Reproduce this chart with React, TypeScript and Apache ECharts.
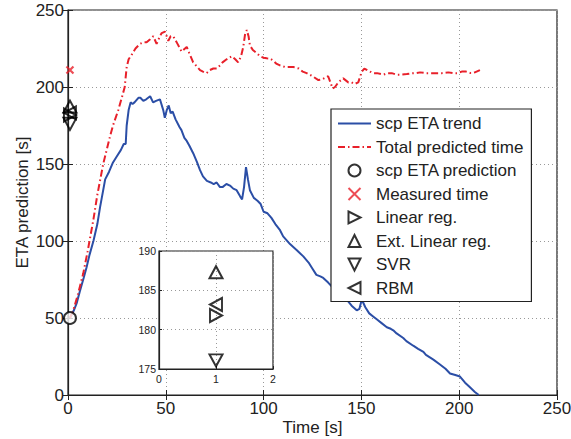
import React, { useEffect, useRef } from "react";
import * as echarts from "echarts";

// ---- data ----
const etaTrend: [number, number][] = [
  [1, 50], [3, 55], [4.4, 59.5], [6, 67], [8, 76], [9.5, 83], [11, 91], [13, 100], [15, 111],
  [16.4, 122], [18, 133], [19, 140], [21, 145], [23, 151], [25, 155], [27, 159], [28.5, 163],
  [29.5, 163], [30, 175], [31, 185], [32, 190], [33, 189], [34, 190], [36, 193], [37, 193],
  [38.5, 191], [40, 192], [42, 194], [43.5, 190], [45, 191], [47, 192], [48.7, 185], [49.5, 180],
  [50.5, 185], [51.5, 188], [52.5, 183], [53.5, 184], [55, 179], [57, 174], [58, 172], [59.5, 167],
  [60.7, 165], [62, 162], [64, 157], [66, 151], [67.5, 146], [69, 142], [71, 139], [73, 138],
  [74.5, 137], [76, 138], [77.7, 135], [79, 135], [81, 137], [82.8, 136], [84.5, 134], [86.2, 133],
  [88, 129], [89, 127], [90, 135], [91, 148], [92, 140], [93, 133], [95, 128], [97, 126],
  [98.5, 124], [100, 119], [102, 118], [104, 115], [106, 111], [108.4, 107], [110, 103],
  [113.5, 98], [117, 94], [120.3, 90], [123, 86], [125, 82], [127, 78], [129, 77], [130.5, 76],
  [133, 73], [136, 69], [139, 65], [142.5, 62], [145, 58], [147.6, 55], [149, 56], [150.2, 62],
  [152, 57], [154, 53], [156, 51], [158, 49], [160, 47], [163, 44], [165, 43], [166.3, 42],
  [168, 40], [171.4, 37], [173, 35], [176.5, 32], [179, 30], [181.7, 28], [183, 26], [186.8, 23],
  [190, 20], [193, 17], [195.3, 14], [198, 13], [200.4, 12], [203, 8], [205.5, 5], [208, 2], [210, 0],
];

const totalPredicted: [number, number][] = [
  [1, 50], [2.7, 55], [5, 65], [7.8, 79], [10, 93], [13, 114], [15, 130], [18, 150], [21.5, 168],
  [23, 175], [25.7, 185], [27.5, 193], [29, 200], [30, 213], [31, 218], [32.6, 221], [34.5, 225],
  [36.8, 228], [38.5, 229], [40.2, 229], [42, 231], [43.6, 233], [45.3, 228], [47, 233],
  [47.9, 235], [49.6, 236], [51.3, 230], [52.5, 233], [53.8, 233], [56, 228], [58.1, 223],
  [60.7, 226], [62, 222], [64, 216], [67.5, 211], [69, 210], [70.9, 209], [72.5, 211], [74.3, 212],
  [76, 212], [77.7, 214], [79, 216], [81.1, 218], [83.7, 220], [85.5, 218], [87, 216], [88.5, 220],
  [89.6, 226], [90.5, 234], [91.4, 237], [92.3, 233], [93, 227], [94.5, 224], [96.5, 222],
  [98.2, 220], [100, 219], [101.6, 218.6], [103.3, 218.5], [105, 217], [106.7, 215], [108.4, 214],
  [111, 213], [113, 213], [115.2, 213], [118, 212], [120, 210], [122, 209], [125, 207],
  [128, 204.5], [130, 205], [133, 207], [135.3, 199], [136.5, 200], [138.2, 203], [140.7, 205.6],
  [143.3, 203], [145, 203], [146.5, 202], [148.4, 203], [150.2, 210], [151.5, 212], [153.5, 210.6],
  [156, 209], [158, 209], [161.2, 208], [163.5, 209], [165.5, 209], [168, 208], [170, 208],
  [173.2, 208.4], [176, 209], [178, 209], [180, 209.5], [183, 209], [186, 209], [188.5, 209],
  [191, 209], [194.4, 209.5], [197, 209], [199, 209], [201.3, 210], [203.5, 210], [206, 209],
  [208, 209.5], [210.6, 211],
];

const etaPrediction: [number, number][] = [[1, 50]];
const measuredTime: [number, number][] = [[1, 211]];
const linearReg: [number, number][] = [[1, 181.8]];
const extLinearReg: [number, number][] = [[1, 187.3]];
const svr: [number, number][] = [[1, 176.1]];
const rbm: [number, number][] = [[1, 183.2]];

const seriesNames = [
  "scp ETA trend",
  "Total predicted time",
  "scp ETA prediction",
  "Measured time",
  "Linear reg.",
  "Ext. Linear reg.",
  "SVR",
  "RBM",
];

const FONT = "'Liberation Sans', Arial, Helvetica, sans-serif";
const INK = "#222";
const BLUE = "#2b4ea6";
const RED = "#e8202a";

const TRI_RIGHT = "path://M0,0L10,5L0,10Z";
const TRI_UP = "path://M5,0L10,10L0,10Z";
const TRI_DOWN = "path://M0,0L10,0L5,10Z";
const TRI_LEFT = "path://M10,0L0,5L10,10Z";
const CROSS = "path://M0,0L10,10M10,0L0,10";

const hollow = { color: "rgba(0,0,0,0)", borderColor: "#000", borderWidth: 2 };

export default function App() {
  const ref = useRef<HTMLDivElement>(null);

  useEffect(() => {
    if (!ref.current) return;
    const chart = echarts.init(ref.current, undefined, { renderer: "svg" });

    const split = { show: true, lineStyle: { color: "#999", width: 1, type: [1, 3] as any } };
    const axisLine = { show: true, onZero: false, lineStyle: { color: INK, width: 1.2 } };
    const label = { color: INK, fontSize: 17, fontFamily: FONT };
    const smallLabel = { color: INK, fontSize: 10.5, fontFamily: FONT };

    const markerSeries = (
      name: string,
      data: [number, number][],
      symbol: string,
      size: number | number[],
      xi: number,
      yi: number,
      z: number,
      style: any = hollow
    ) => ({
      name,
      type: "scatter",
      xAxisIndex: xi,
      yAxisIndex: yi,
      data,
      symbol,
      symbolSize: size,
      itemStyle: style,
      z,
      silent: true,
    });

    const legendData = seriesNames.map((name, i) =>
      i < 2 ? { name, itemStyle: { opacity: 0 } } : { name }
    );

    const option: any = {
      animation: false,
      backgroundColor: "#fff",
      grid: [
        {
          left: 68, top: 10, width: 489, height: 385, show: true, outerBoundsMode: "none",
          borderColor: INK, borderWidth: 1.2, backgroundColor: "#fff",
        },
        {
          left: 159, top: 251, width: 114, height: 118, show: true, outerBoundsMode: "none",
          borderColor: INK, borderWidth: 1.2, backgroundColor: "#fff", z: 5,
        },
      ],
      xAxis: [
        {
          type: "value", gridIndex: 0, min: 0, max: 250, interval: 50,
          axisLine, axisTick: { show: true, inside: true, length: 5, lineStyle: { color: INK } },
          axisLabel: { ...label, margin: 5 }, splitLine: split,
          name: "Time [s]", nameLocation: "middle", nameGap: 24, nameMoveOverlap: false,
          nameTextStyle: { color: INK, fontSize: 17, fontFamily: FONT },
        },
        {
          type: "value", gridIndex: 0, min: 0, max: 250, interval: 50, position: "top",
          axisLine: { show: false }, axisTick: { show: true, inside: true, length: 5, lineStyle: { color: INK } },
          axisLabel: { show: false }, splitLine: { show: false },
        },
        {
          type: "value", gridIndex: 1, min: 0, max: 2, interval: 1, z: 6,
          axisLine, axisTick: { show: true, inside: true, length: 3, lineStyle: { color: INK } },
          axisLabel: { ...smallLabel, margin: 4 }, splitLine: split,
        },
      ],
      yAxis: [
        {
          type: "value", gridIndex: 0, min: 0, max: 250, interval: 50,
          axisLine, axisTick: { show: true, inside: true, length: 5, lineStyle: { color: INK } },
          axisLabel: { ...label, margin: 4 }, splitLine: split,
          name: "ETA prediction [s]", nameLocation: "middle", nameGap: 37, nameMoveOverlap: false,
          nameTextStyle: { color: INK, fontSize: 17, fontFamily: FONT },
        },
        {
          type: "value", gridIndex: 0, min: 0, max: 250, interval: 50, position: "right",
          axisLine: { show: false }, axisTick: { show: true, inside: true, length: 5, lineStyle: { color: INK } },
          axisLabel: { show: false }, splitLine: { show: false },
        },
        {
          type: "value", gridIndex: 1, min: 175, max: 190, interval: 5, z: 6,
          axisLine, axisTick: { show: true, inside: true, length: 3, lineStyle: { color: INK } },
          axisLabel: { ...smallLabel, margin: 3 }, splitLine: split,
        },
      ],
      legend: {
        data: legendData,
        orient: "vertical",
        left: 331,
        top: 109,
        padding: [6, 8, 5, 6],
        itemWidth: 33,
        itemHeight: 12,
        itemGap: 6.5,
        backgroundColor: "#fff",
        borderColor: INK,
        borderWidth: 1.2,
        borderRadius: 0,
        selectedMode: false,
        textStyle: { color: INK, fontSize: 17, fontFamily: FONT },
        z: 10,
      },
      series: [
        {
          name: seriesNames[0], type: "line", data: etaTrend, xAxisIndex: 0, yAxisIndex: 0,
          showSymbol: false, symbol: "none", lineStyle: { color: BLUE, width: 2 },
          itemStyle: { color: BLUE }, z: 2, silent: true,
        },
        {
          name: seriesNames[1], type: "line", data: totalPredicted, xAxisIndex: 0, yAxisIndex: 0,
          showSymbol: false, symbol: "none",
          lineStyle: { color: RED, width: 2, type: [7, 3, 1.5, 3] },
          itemStyle: { color: RED }, z: 3, silent: true,
        },
        markerSeries(seriesNames[2], etaPrediction, "circle", 12, 0, 0, 4,
          { color: "#fff", borderColor: "#000", borderWidth: 2 }),
        markerSeries(seriesNames[3], measuredTime, CROSS, 7, 0, 0, 4,
          { color: "rgba(0,0,0,0)", borderColor: RED, borderWidth: 2.2 }),
        markerSeries(seriesNames[4], linearReg, TRI_RIGHT, [12, 13], 0, 0, 4),
        markerSeries(seriesNames[5], extLinearReg, TRI_UP, [13, 12], 0, 0, 4),
        markerSeries(seriesNames[6], svr, TRI_DOWN, [13, 12], 0, 0, 4),
        markerSeries(seriesNames[7], rbm, TRI_LEFT, [12, 13], 0, 0, 4),
        markerSeries(seriesNames[4], linearReg, TRI_RIGHT, [12, 13], 2, 2, 8),
        markerSeries(seriesNames[5], extLinearReg, TRI_UP, [13, 12], 2, 2, 8),
        markerSeries(seriesNames[6], svr, TRI_DOWN, [13, 12], 2, 2, 8),
        markerSeries(seriesNames[7], rbm, TRI_LEFT, [12, 13], 2, 2, 8),
      ],
    };

    chart.setOption(option);
    return () => chart.dispose();
  }, []);

  return (
    <div
      ref={ref}
      style={{ position: "fixed", left: 0, top: 0, width: 571, height: 439, background: "#fff" }}
    />
  );
}
